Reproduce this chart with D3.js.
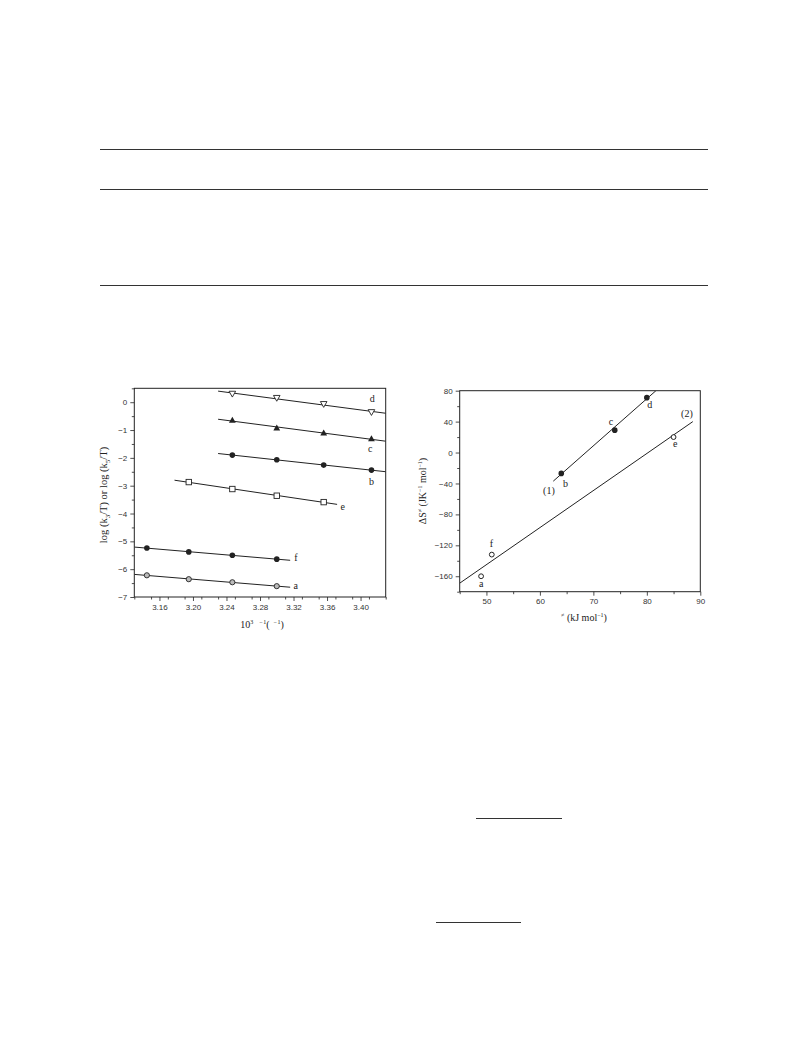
<!DOCTYPE html>
<html><head><meta charset="utf-8">
<script src="https://cdn.jsdelivr.net/npm/d3@7"></script>
<style>
html,body{margin:0;padding:0;background:#fff;}
svg{display:block;}
.tick text{font-family:"Liberation Sans",Arial,sans-serif;font-size:8px;fill:#333;}
.lbl{font-family:"Liberation Serif","Times New Roman",serif;font-size:10px;fill:#222;}
</style></head>
<body>
<svg id="c" width="792" height="1056"></svg>
<script>
// ---------- data: left chart (log k/T vs 10^3/T) ----------
const invT = [3.145, 3.195, 3.247, 3.300, 3.356, 3.413];
const seriesNames = ["a","f","e","b","c","d"];
const aX = [3.145, 3.195, 3.247, 3.300];
const aY = [-6.22, -6.36, -6.47, -6.61];
const fX = [3.145, 3.195, 3.247, 3.300];
const fY = [-5.24, -5.38, -5.50, -5.64];
const eX = [3.195, 3.247, 3.300, 3.356];
const eY = [-2.87, -3.12, -3.36, -3.59];
const bX = [3.247, 3.300, 3.356, 3.413];
const bY = [-1.90, -2.07, -2.26, -2.44];
const cX = [3.247, 3.300, 3.356, 3.413];
const cY = [-0.65, -0.93, -1.11, -1.32];
const dX = [3.247, 3.300, 3.356, 3.413];
const dY = [0.30, 0.15, -0.07, -0.36];
// fitted-line x extents (data units)
const fitRange = {a:[3.13,3.316], f:[3.13,3.316], e:[3.178,3.372], b:[3.23,3.43], c:[3.23,3.43], d:[3.23,3.43]};
const leftXTicks = [3.16, 3.20, 3.24, 3.28, 3.32, 3.36, 3.40];
const leftYTicks = [0, -1, -2, -3, -4, -5, -6, -7];

// ---------- data: right chart (ΔS vs ΔH) ----------
const rLabels = ["a","f","b","c","d","e"];
const rH = [49, 51, 64, 74, 80, 85];
const rS = [-160, -132, -27, 29, 71, 20];
const rFilled = [false, false, true, true, true, false];
const line1 = [[62.5, -37], [81.7, 80]];
const line2 = [[45, -169], [88.6, 40]];
const rightXTicks = [50, 60, 70, 80, 90];
const rightYTicks = [80, 40, 0, -40, -80, -120, -160];

const svg = d3.select("#c");
const ink = "#222";

// ---------- document rules ----------
const rules = [[100,708,149.5],[100,708,189.5],[100,708,285.5],[476,562,818.5],[436,521,922.5]];
svg.selectAll("line.rule").data(rules).join("line").attr("class","rule")
  .attr("x1",d=>d[0]).attr("x2",d=>d[1]).attr("y1",d=>d[2]).attr("y2",d=>d[2])
  .attr("stroke","#333").attr("stroke-width",1.2);

// ---------- left chart ----------
const L = {x0:134.3, x1:385.7, y0:388.3, y1:597};
const xL = d3.scaleLinear().domain([3.13, 3.43]).range([L.x0, L.x1]);
const yL = d3.scaleLinear().domain([-7, 0.5]).range([L.y1, L.y0]);

svg.append("clipPath").attr("id","clipL").append("rect")
  .attr("x",L.x0).attr("y",L.y0).attr("width",L.x1-L.x0).attr("height",L.y1-L.y0);

function drawAxes(xs, ys, box, xt, yt, xMinorStep, yMinorStep, fmtX, fmtY){
  const gx = svg.append("g").attr("transform",`translate(0,${box.y1})`);
  gx.call(d3.axisBottom(xs).tickValues(d3.range(xs.domain()[0], xs.domain()[1]+1e-9, xMinorStep).filter(v=>!xt.some(t=>Math.abs(t-v)<1e-6))).tickSize(2.5).tickFormat(""));
  const gx2 = svg.append("g").attr("transform",`translate(0,${box.y1})`);
  gx2.call(d3.axisBottom(xs).tickValues(xt).tickSize(4).tickPadding(3).tickFormat(fmtX));
  const gy = svg.append("g").attr("transform",`translate(${box.x0},0)`);
  gy.call(d3.axisLeft(ys).tickValues(d3.range(ys.domain()[0], ys.domain()[1]+1e-9, yMinorStep).filter(v=>!yt.some(t=>Math.abs(t-v)<1e-6))).tickSize(2.5).tickFormat(""));
  const gy2 = svg.append("g").attr("transform",`translate(${box.x0},0)`);
  gy2.call(d3.axisLeft(ys).tickValues(yt).tickSize(4).tickPadding(3).tickFormat(fmtY));
  [gx,gx2,gy,gy2].forEach(g=>{g.select(".domain").remove(); g.selectAll(".tick line").attr("stroke",ink).attr("stroke-width",0.8);});
  svg.append("rect").attr("x",box.x0).attr("y",box.y0).attr("width",box.x1-box.x0).attr("height",box.y1-box.y0)
    .attr("fill","none").attr("stroke",ink).attr("stroke-width",1);
}
const minus = v => (v<0 ? "\u2212"+Math.abs(v) : ""+v);
drawAxes(xL, yL, L, leftXTicks, leftYTicks, 0.02, 0.5, d3.format(".2f"), minus);

const seriesL = {a:[aX,aY], f:[fX,fY], e:[eX,eY], b:[bX,bY], c:[cX,cY], d:[dX,dY]};
const styleL = {a:"circleOpen", f:"circleFill", e:"square", b:"circleFill", c:"triUp", d:"triDown"};
const gL = svg.append("g").attr("clip-path","url(#clipL)");
seriesNames.forEach(k=>{
  const [xs, ys] = seriesL[k];
  const mx = d3.mean(xs), my = d3.mean(ys);
  const m = d3.sum(xs.map((x,i)=>(x-mx)*(ys[i]-my))) / d3.sum(xs.map(x=>(x-mx)*(x-mx)));
  const r = fitRange[k];
  gL.append("line").attr("x1",xL(r[0])).attr("x2",xL(r[1]))
    .attr("y1",yL(my+m*(r[0]-mx))).attr("y2",yL(my+m*(r[1]-mx)))
    .attr("stroke",ink).attr("stroke-width",1);
});
function marker(g, type, x, y){
  if(type==="circleFill") g.append("circle").attr("cx",x).attr("cy",y).attr("r",2.8).attr("fill",ink);
  else if(type==="circleOpen") g.append("circle").attr("cx",x).attr("cy",y).attr("r",2.6).attr("fill","#bbb").attr("stroke",ink).attr("stroke-width",0.9);
  else if(type==="square") g.append("rect").attr("x",x-2.7).attr("y",y-2.7).attr("width",5.4).attr("height",5.4).attr("fill","#fff").attr("stroke",ink).attr("stroke-width",0.9);
  else if(type==="triUp") g.append("path").attr("d",`M${x},${y-3.6}L${x+3.4},${y+2.4}L${x-3.4},${y+2.4}Z`).attr("fill",ink);
  else if(type==="triDown") g.append("path").attr("d",`M${x},${y+3.2}L${x+3.3},${y-2.6}L${x-3.3},${y-2.6}Z`).attr("fill","#fff").attr("stroke",ink).attr("stroke-width",0.9);
}
seriesNames.forEach(k=>{
  const [xs, ys] = seriesL[k];
  xs.forEach((x,i)=>marker(svg, styleL[k], xL(x), yL(ys[i])));
});
// series labels (data-unit anchors)
const labL = [["d",3.411,0.0],["c",3.409,-1.80],["b",3.410,-2.97],["e",3.376,-3.86],["f",3.321,-5.69],["a",3.320,-6.72]];
svg.selectAll("text.labL").data(labL).join("text").attr("class","lbl")
  .attr("x",d=>xL(d[1])).attr("y",d=>yL(d[2])).text(d=>d[0]);

// axis titles left
const tL = svg.append("text").attr("class","lbl").attr("x",262).attr("y",628).attr("text-anchor","middle").style("font-size","10px");
tL.append("tspan").text("10");
tL.append("tspan").attr("dy",-4).style("font-size","6px").text("3");
tL.append("tspan").attr("dy",0).attr("dx",6).style("font-size","6px").text("\u2212\u200a1");
tL.append("tspan").attr("dy",4).text("(");
tL.append("tspan").attr("dy",-4).attr("dx",4).style("font-size","6px").text("\u2212\u200a1");
tL.append("tspan").attr("dy",4).text(")");

const yt = svg.append("text").attr("class","lbl").attr("transform","translate(107,495) rotate(-90)").attr("text-anchor","middle").style("font-size","10.5px");
yt.append("tspan").text("log (k");
yt.append("tspan").attr("dy",3).style("font-size","7px").text("3");
yt.append("tspan").attr("dy",-3).text("/T) or log (k");
yt.append("tspan").attr("dy",3).style("font-size","7px").text("5");
yt.append("tspan").attr("dy",-3).text("/T)");

// ---------- right chart ----------
const R = {x0:459.7, x1:700.3, y0:390.7, y1:591.7};
const xR = d3.scaleLinear().domain([45, 90]).range([R.x0, R.x1]);
const yR = d3.scaleLinear().domain([-180, 80]).range([R.y1, R.y0]);
svg.append("clipPath").attr("id","clipR").append("rect")
  .attr("x",R.x0).attr("y",R.y0).attr("width",R.x1-R.x0).attr("height",R.y1-R.y0);
drawAxes(xR, yR, R, rightXTicks, rightYTicks, 5, 20, d3.format("d"), minus);

const gR = svg.append("g").attr("clip-path","url(#clipR)");
[line1, line2].forEach(ln=>{
  gR.append("line").attr("x1",xR(ln[0][0])).attr("y1",yR(ln[0][1]))
    .attr("x2",xR(ln[1][0])).attr("y2",yR(ln[1][1])).attr("stroke",ink).attr("stroke-width",1);
});
rH.forEach((h,i)=>{
  if(rFilled[i]) svg.append("circle").attr("cx",xR(h)).attr("cy",yR(rS[i])).attr("r",2.8).attr("fill",ink);
  else svg.append("circle").attr("cx",xR(h)).attr("cy",yR(rS[i])).attr("r",2.4).attr("fill","#fff").attr("stroke",ink).attr("stroke-width",1);
});
const labR = [["a",48.6,-174],["f",50.6,-122],["b",64.3,-44],["c",72.9,35],["d",80.1,58],["e",84.9,7],["(1)",60.6,-54],["(2)",86.4,46]];
svg.selectAll("text.labR").data(labR).join("text").attr("class","lbl")
  .attr("x",d=>xR(d[1])).attr("y",d=>yR(d[2])).text(d=>d[0]);

const xt2 = svg.append("text").attr("class","lbl").attr("x",584).attr("y",621).attr("text-anchor","middle").style("font-size","10px");
xt2.append("tspan").attr("dy",-4).style("font-size","6px").text("\u2260");
xt2.append("tspan").attr("dy",4).text(" (kJ mol");
xt2.append("tspan").attr("dy",-4).style("font-size","6px").text("\u22121");
xt2.append("tspan").attr("dy",4).text(")");

const yt2 = svg.append("text").attr("class","lbl").attr("transform","translate(426,491) rotate(-90)").attr("text-anchor","middle").style("font-size","10px");
yt2.append("tspan").text("\u0394S");
yt2.append("tspan").attr("dy",-4).style("font-size","6px").text("\u2260");
yt2.append("tspan").attr("dy",4).text(" (JK");
yt2.append("tspan").attr("dy",-4).style("font-size","6px").text("\u22121");
yt2.append("tspan").attr("dy",4).text(" mol");
yt2.append("tspan").attr("dy",-4).style("font-size","6px").text("\u22121");
yt2.append("tspan").attr("dy",4).text(")");
</script>
</body></html>
